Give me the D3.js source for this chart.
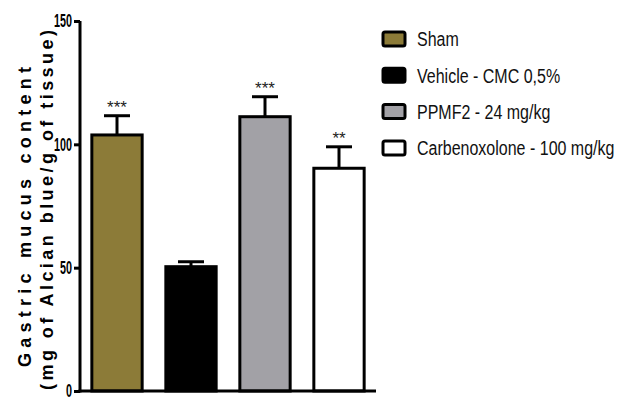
<!DOCTYPE html>
<html>
<head>
<meta charset="utf-8">
<script src="https://cdn.jsdelivr.net/npm/d3@7"></script>
<style>
  body { margin: 0; background: #fff; }
  svg { display: block; }
  text { font-family: "Liberation Sans", Arial, sans-serif; }
</style>
</head>
<body>
<div id="chart"></div>
<script>
const width = 627;
const height = 400;

// data
const groups = ["Sham", "Vehicle - CMC 0,5%", "PPMF2 - 24 mg/kg", "Carbenoxolone - 100 mg/kg"];
const means = [103.8, 50.4, 111.2, 90.3];
const errors = [7.8, 2.0, 8.1, 8.7];
const stars = ["***", "", "***", "**"];
const fills = ["#8c7b38", "#000000", "#a2a1a6", "#ffffff"];
const yTicks = [0, 50, 100, 150];

const svg = d3.select("#chart")
  .append("svg")
  .attr("width", width)
  .attr("height", height);

const x = d3.scaleBand()
  .domain(groups)
  .range([80, 376])
  .paddingInner(0.32)
  .paddingOuter(0.16);

const y = d3.scaleLinear()
  .domain([0, 150])
  .range([391, 21]);

// bars
svg.selectAll("rect.bar")
  .data(groups)
  .enter()
  .append("rect")
  .attr("class", "bar")
  .attr("x", d => x(d))
  .attr("y", (d, i) => y(means[i]))
  .attr("width", x.bandwidth())
  .attr("height", (d, i) => y(0) - y(means[i]))
  .attr("fill", (d, i) => fills[i])
  .attr("stroke", "#000")
  .attr("stroke-width", 3);

// error bars (upper only)
const err = svg.selectAll("g.err")
  .data(groups)
  .enter()
  .append("g")
  .attr("class", "err")
  .attr("stroke", "#000")
  .attr("stroke-width", 3);

err.append("line")
  .attr("x1", d => x(d) + x.bandwidth() / 2)
  .attr("x2", d => x(d) + x.bandwidth() / 2)
  .attr("y1", (d, i) => y(means[i]))
  .attr("y2", (d, i) => y(means[i] + errors[i]));

err.append("line")
  .attr("x1", d => x(d) + x.bandwidth() / 2 - 13)
  .attr("x2", d => x(d) + x.bandwidth() / 2 + 13)
  .attr("y1", (d, i) => y(means[i] + errors[i]))
  .attr("y2", (d, i) => y(means[i] + errors[i]));

// significance stars
svg.selectAll("text.star")
  .data(groups)
  .enter()
  .append("text")
  .attr("class", "star")
  .attr("x", d => x(d) + x.bandwidth() / 2)
  .attr("y", (d, i) => y(means[i] + errors[i]) - 3)
  .attr("text-anchor", "middle")
  .style("font-size", "17px")
  .attr("fill", "#222")
  .text((d, i) => stars[i]);

// y axis
const tickScale = 0.6;
const yAxis = svg.append("g")
  .attr("transform", "translate(80,0)")
  .call(d3.axisLeft(y).tickValues(yTicks).tickSize(6).tickSizeOuter(0));

yAxis.select(".domain").attr("stroke-width", 3).attr("d", `M0,${y(150)}V${y(0) + 1.5}`);
yAxis.selectAll(".tick line").attr("stroke-width", 3);
yAxis.selectAll(".tick text")
  .attr("x", -8 / tickScale)
  .attr("transform", `scale(${tickScale},1)`)
  .style("font-size", "18px")
  .style("font-weight", "bold")
  .attr("fill", "#000");

// x axis baseline
svg.append("line")
  .attr("x1", 78.5)
  .attr("x2", 376)
  .attr("y1", y(0))
  .attr("y2", y(0))
  .attr("stroke", "#000")
  .attr("stroke-width", 3);

// y axis title (two lines, letter spaced)
svg.append("text")
  .attr("transform", `translate(31,${(367 + 67) / 2}) rotate(-90)`)
  .attr("text-anchor", "middle")
  .attr("textLength", 300)
  .attr("lengthAdjust", "spacing")
  .style("font-size", "18px")
  .style("font-weight", "bold")
  .text("Gastric mucus content");

svg.append("text")
  .attr("transform", `translate(53,${(390 + 30) / 2}) rotate(-90)`)
  .attr("text-anchor", "middle")
  .attr("textLength", 360)
  .attr("lengthAdjust", "spacing")
  .style("font-size", "18px")
  .style("font-weight", "bold")
  .text("(mg of Alcian blue/g of tissue)");

// legend
const legend = svg.selectAll("g.legend")
  .data(groups)
  .enter()
  .append("g")
  .attr("class", "legend")
  .attr("transform", (d, i) => `translate(383,${39 + i * 36.3})`);

legend.append("rect")
  .attr("x", 0)
  .attr("y", -7)
  .attr("width", 22)
  .attr("height", 14)
  .attr("rx", 2)
  .attr("fill", (d, i) => fills[i])
  .attr("stroke", "#000")
  .attr("stroke-width", 3);

legend.append("text")
  .attr("transform", "translate(34,0) scale(0.8,1)")
  .attr("dy", "0.36em")
  .style("font-size", "20px")
  .attr("fill", "#111")
  .text(d => d);
</script>
</body>
</html>
